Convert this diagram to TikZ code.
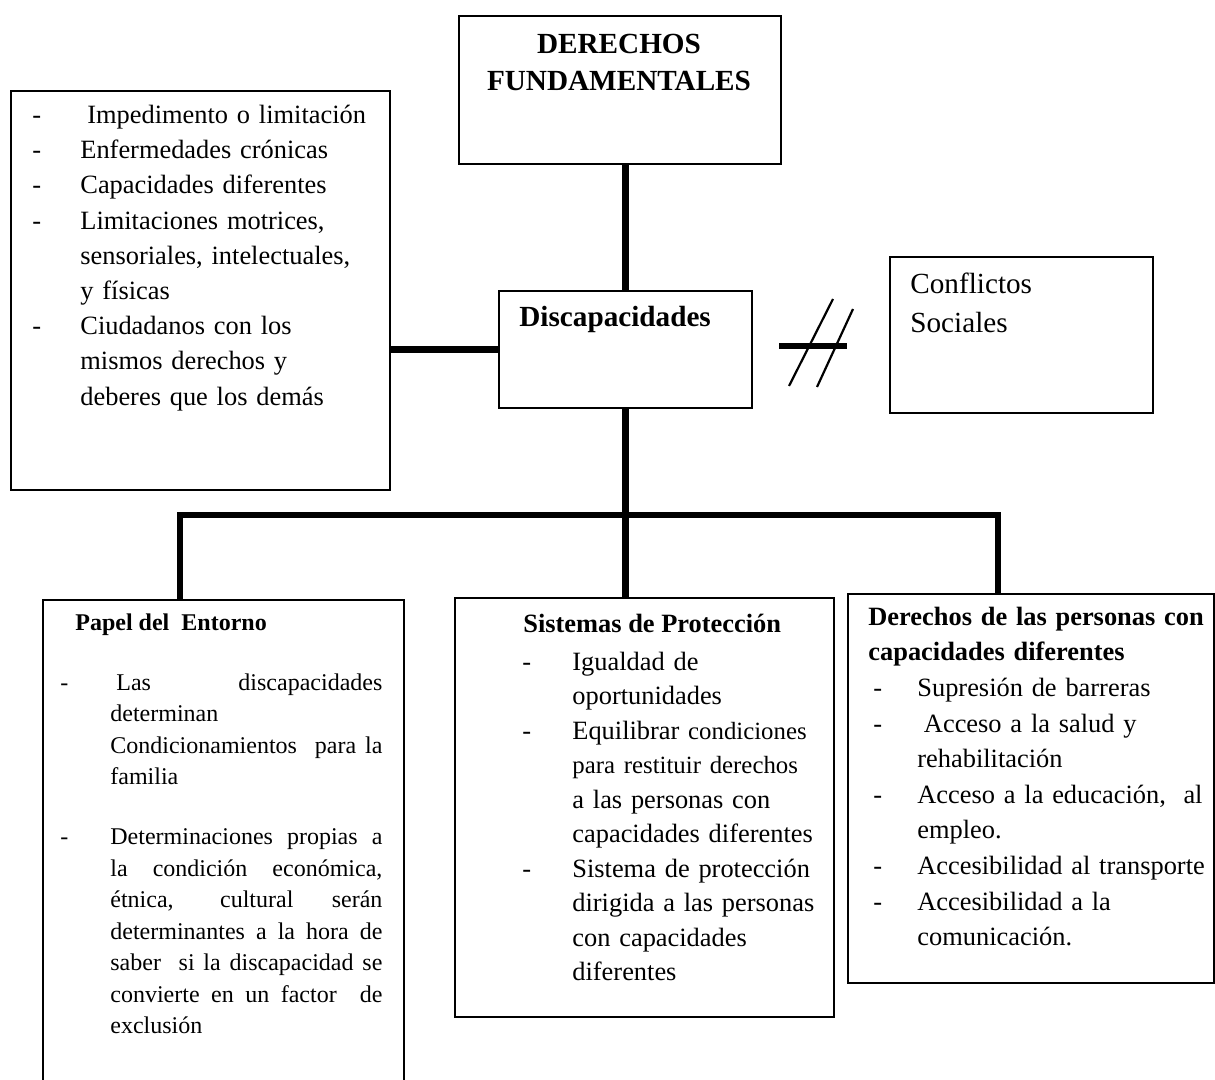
\documentclass[tikz,border=0pt]{standalone}
\usepackage{fontspec}
\setmainfont{Liberation Serif}

\newcommand{\cuerpo}{\fontsize{13.2}{17.6}\selectfont}
\newcommand{\chica}{\fontsize{12.4}{17.25}\selectfont}
\newcommand{\guion}[3][0pt]{\hangindent=#2\hangafter=1\noindent\makebox[#2][l]{\hspace*{#1}-}#3\par}

\begin{document}
\begin{tikzpicture}[x=0.5pt, y=-0.5pt,
    caja/.style={draw, line width=0.9pt, anchor=north west, inner sep=0pt},
    texto/.style={anchor=north west, inner sep=0pt, align=left},
    titulo/.style={anchor=base west, inner sep=0pt},
    linea/.style={line width=3.2pt},
    tachado/.style={line width=1.1pt}]
    \useasboundingbox (0,0) rectangle (1215,1080);
    \clip (0,0) rectangle (1215,1080);
    \fill[white] (0,0) rectangle (1215,1080);

    % Derechos fundamentales
    \node[caja, minimum width=161pt, minimum height=74pt] (df) at (458,15) {};
    \node[texto, anchor=north, align=center, font=\fontsize{14.6}{18.5}\selectfont\bfseries] (tdf) at (619,27) {\strut DERECHOS\\FUNDAMENTALES};

    % Discapacidades
    \node[caja, minimum width=126.5pt, minimum height=58.5pt] (disc) at (498,290) {};
    \node[titulo, font=\fontsize{14.6}{18.5}\selectfont\bfseries] (tdisc) at (519,327) {Discapacidades};

    % Sinonimos (izquierda)
    \node[caja, minimum width=189.5pt, minimum height=199.5pt] (sint) at (10,90) {};
    \node[texto, text width=175pt, font=\cuerpo] (tsint) at (32,98.5) {%
        \guion{24pt}{\strut\hspace{3.5pt}Impedimento o limitación}
        \guion{24pt}{Enfermedades crónicas}
        \guion{24pt}{Capacidades diferentes}
        \guion{24pt}{Limitaciones motrices,\newline sensoriales, intelectuales,\newline y físicas}
        \guion{24pt}{Ciudadanos con los\newline mismos derechos y\newline deberes que los demás}};

    % Conflictos sociales
    \node[caja, minimum width=131.5pt, minimum height=78pt] (conf) at (889,256) {};
    \node[texto, font=\fontsize{14.6}{19.5}\selectfont] (tconf) at (910,265.7) {\strut Conflictos\\Sociales};

    % Papel del entorno
    \node[caja, minimum width=180.5pt, minimum height=255pt] (ent) at (42,599) {};
    \node[titulo, font=\fontsize{12}{15.75}\selectfont\bfseries] (tent) at (75,630) {Papel del~ Entorno};
    \node[texto, align=justify, text width=161pt, font=\fontsize{12}{15.75}\selectfont] (tent2) at (60,668) {%
        \tolerance=10000 \hbadness=10000
        \guion{25pt}{\strut\hspace{3pt}Las discapacidades\linebreak determinan\newline Condicionamientos\ \ para la\linebreak familia}
        \vspace{14.25pt}
        \guion{25pt}{Determinaciones propias a\linebreak la condición económica,\linebreak étnica, cultural serán\linebreak determinantes a la hora de\linebreak saber\ \ si la discapacidad se\linebreak convierte en un factor\ \ de\linebreak exclusión}};

    % Sistemas de proteccion
    \node[caja, minimum width=189.5pt, minimum height=209.5pt] (prot) at (454,597) {};
    \node[titulo, font=\cuerpo\bfseries] (tprot) at (523,632) {Sistemas de Protección};
    \node[texto, text width=155pt, font=\fontsize{13.2}{17.25}\selectfont] (tprot2) at (522,645.8) {%
        \guion{25pt}{\strut Igualdad de\newline oportunidades}
        \guion{25pt}{Equilibrar {\chica condiciones}\newline {\chica para restituir derechos}\newline a las personas con\newline capacidades diferentes}
        \guion{25pt}{Sistema de protección\newline dirigida a las personas\newline con capacidades\newline diferentes}};

    % Derechos de las personas
    \node[caja, minimum width=183pt, minimum height=194.5pt] (der) at (847,593) {};
    \node[texto, text width=172pt, font=\fontsize{13.2}{17.8}\selectfont] (tder) at (868,600) {%
        {\bfseries\strut Derechos de las personas con\newline capacidades diferentes\par}
        \guion[2.5pt]{24.5pt}{Supresión de barreras}
        \guion[2.5pt]{24.5pt}{\hspace{3.3pt}Acceso a la salud y\newline rehabilitación}
        \guion[2.5pt]{24.5pt}{Acceso a la educación,\ \ al\newline empleo.}
        \guion[2.5pt]{24.5pt}{Accesibilidad al transporte}
        \guion[2.5pt]{24.5pt}{Accesibilidad a la\newline comunicación.}};

    % conectores
    \draw[linea] (disc.north |- df.south) -- (disc.north);
    \draw[linea] (sint.east |- disc.west) -- (disc.west);
    \draw[linea] (disc.south) -- (disc.south |- prot.north);
    \coordinate (bi) at (180,515);
    \coordinate (bd) at (998,515);
    \draw[linea] (bi |- ent.north) -- (bi) -- (bd) -- (bd |- der.north);

    % sin relacion
    \coordinate (ni) at (779,346);
    \coordinate (nd) at (847,346);
    \draw[linea] (ni) -- (nd);
    \draw[tachado] (789,386) -- (833,299);
    \draw[tachado] (817,387) -- (853,309);
\end{tikzpicture}
\end{document}
